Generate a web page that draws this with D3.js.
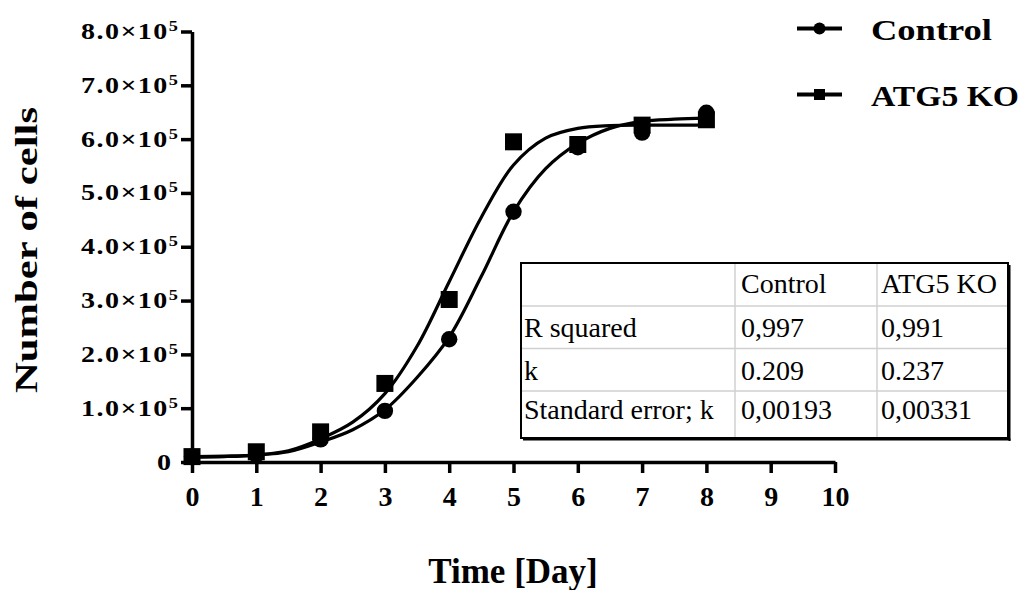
<!DOCTYPE html>
<html>
<head>
<meta charset="utf-8">
<script src="https://cdn.jsdelivr.net/npm/d3@7"></script>
<style>
  html, body { margin: 0; padding: 0; background: #fff; }
  svg { display: block; }
  text { font-family: "Liberation Serif", "Times New Roman", serif; fill: #000; }
</style>
</head>
<body>
<svg id="chart" width="1026" height="590"></svg>
<script>
// ---- data ----
const days = [0, 1, 2, 3, 4, 5, 6, 7, 8];
const controlCells = [10000, 14000, 42000, 95000, 228000, 465000, 585000, 612000, 649000];
const atg5Cells    = [10000, 19000, 56000, 146000, 302000, 595000, 590000, 626000, 636000];

const fitDays = [0, 0.5, 1, 1.5, 2, 2.5, 3, 3.5, 4, 4.5, 5, 5.5, 6, 6.5, 7, 7.5, 8];
const controlFit = [10000, 11000, 13000, 19000, 37000, 60000, 97000, 157000, 232000, 345000, 465000, 545000, 592000, 620000, 633000, 637000, 639000];
const atg5Fit    = [9000, 10000, 13000, 21000, 43000, 74000, 127000, 215000, 335000, 455000, 552000, 602000, 620000, 625000, 626000, 626000, 626000];

const xTicks = [0, 1, 2, 3, 4, 5, 6, 7, 8, 9, 10];
const yTicks = [0, 100000, 200000, 300000, 400000, 500000, 600000, 700000, 800000];
const yTickMantissa = ["0", "1.0", "2.0", "3.0", "4.0", "5.0", "6.0", "7.0", "8.0"];

const seriesNames = ["Control", "ATG5 KO"];
const tableHeader = ["", "Control", "ATG5 KO"];
const tableRows = [
  ["R squared", "0,997", "0,991"],
  ["k", "0.209", "0.237"],
  ["Standard error; k", "0,00193", "0,00331"]
];

// ---- chart ----
const svg = d3.select("#chart");
const x = d3.scaleLinear().domain([0, 10]).range([192, 835]);
const y = d3.scaleLinear().domain([0, 800000]).range([462, 31.5]);

// Axes
const xAxis = svg.append("g").attr("transform", `translate(0,${y(0)})`)
  .call(d3.axisBottom(x).tickValues(xTicks).tickSize(11).tickSizeOuter(0).tickFormat(d3.format("d")));
xAxis.select(".domain").attr("stroke", "#000").attr("stroke-width", 3.5);
xAxis.selectAll(".tick line").attr("stroke", "#000").attr("stroke-width", 3.5);
xAxis.selectAll(".tick text").remove();
xAxis.selectAll(".tick").append("text")
  .attr("y", 44).attr("text-anchor", "middle")
  .style("font-size", "28px").style("font-weight", "bold")
  .text(d => d);

const yAxis = svg.append("g").attr("transform", `translate(${x(0)},0)`)
  .call(d3.axisLeft(y).tickValues(yTicks).tickSize(11).tickSizeOuter(0).tickFormat(""));
yAxis.select(".domain").attr("stroke", "#000").attr("stroke-width", 3.5);
yAxis.selectAll(".tick line").attr("stroke", "#000").attr("stroke-width", 3.5);
yAxis.selectAll(".tick text").remove();

yTicks.forEach((v, i) => {
  const g = svg.append("g").attr("transform", `translate(${v === 0 ? 171 : 178},${y(v) + 7.5}) scale(1.22,1)`);
  const t = g.append("text").attr("text-anchor", "end")
    .style("font-size", "23px").style("font-weight", "bold").style("letter-spacing", v === 0 ? "0px" : "1.2px");
  if (v === 0) {
    t.text(yTickMantissa[i]);
  } else {
    t.append("tspan").text(yTickMantissa[i] + "\u00D710");
    t.append("tspan").attr("dy", -8).style("font-size", "15px").style("letter-spacing", "0px").text("5");
  }
});

// Axis titles
svg.append("text").attr("x", 513).attr("y", 583).attr("text-anchor", "middle")
  .style("font-size", "35px").style("font-weight", "bold").text("Time [Day]");
svg.append("text").attr("transform", "translate(37,250) rotate(-90)").attr("text-anchor", "middle")
  .attr("textLength", 286).attr("lengthAdjust", "spacingAndGlyphs")
  .style("font-size", "32px").style("font-weight", "bold").text("Number of cells");

// Fit curves
const line = d3.line().x(d => x(d[0])).y(d => y(d[1])).curve(d3.curveCatmullRom.alpha(0.5));
[controlFit, atg5Fit].forEach(arr => {
  svg.append("path").datum(fitDays.map((d, i) => [d, arr[i]]))
    .attr("d", line).attr("fill", "none").attr("stroke", "#000").attr("stroke-width", 3.2);
});

// Points
svg.append("g").selectAll("circle").data(days.map((d, i) => [d, controlCells[i]]))
  .join("circle").attr("cx", d => x(d[0])).attr("cy", d => y(d[1])).attr("r", 8.2).attr("fill", "#000");
const sq = 17;
svg.append("g").selectAll("rect").data(days.map((d, i) => [d, atg5Cells[i]]))
  .join("rect").attr("x", d => x(d[0]) - sq / 2).attr("y", d => y(d[1]) - sq / 2)
  .attr("width", sq).attr("height", sq).attr("fill", "#000");

// Legend
const legY = [28.5, 94.5];
const legLen = [121, 148];
seriesNames.forEach((name, i) => {
  const g = svg.append("g");
  g.append("line").attr("x1", 797).attr("x2", 842).attr("y1", legY[i]).attr("y2", legY[i])
    .attr("stroke", "#000").attr("stroke-width", 4);
  if (i === 0) g.append("circle").attr("cx", 819.5).attr("cy", legY[i]).attr("r", 6).attr("fill", "#000");
  else g.append("rect").attr("x", 814).attr("y", legY[i] - 5.5).attr("width", 11).attr("height", 11).attr("fill", "#000");
  g.append("text").attr("x", 871).attr("y", legY[i] + 11)
    .attr("textLength", legLen[i]).attr("lengthAdjust", "spacingAndGlyphs")
    .style("font-size", "29px").style("font-weight", "bold").text(name);
});

// Table
const colX = [521, 735, 877, 1008];
const rowY = [263, 306, 348.5, 391, 438];
const baseY = [293, 337, 380, 419];
const tg = svg.append("g");
tg.append("rect").attr("x", colX[0]).attr("y", rowY[0]).attr("width", colX[3] - colX[0]).attr("height", rowY[4] - rowY[0])
  .attr("fill", "#fff");
for (let r = 1; r < 4; r++) {
  tg.append("line").attr("x1", colX[0]).attr("x2", colX[3]).attr("y1", rowY[r]).attr("y2", rowY[r])
    .attr("stroke", "#d0d0d0").attr("stroke-width", 1.5);
}
for (let c = 1; c < 3; c++) {
  tg.append("line").attr("x1", colX[c]).attr("x2", colX[c]).attr("y1", rowY[0]).attr("y2", rowY[4])
    .attr("stroke", "#d0d0d0").attr("stroke-width", 1.5);
}
tg.append("rect").attr("x", colX[0]).attr("y", rowY[0]).attr("width", colX[3] - colX[0]).attr("height", rowY[4] - rowY[0])
  .attr("fill", "none").attr("stroke", "#000").attr("stroke-width", 2);
// drop shadow edges
tg.append("line").attr("x1", colX[3] + 1.5).attr("x2", colX[3] + 1.5).attr("y1", rowY[0] + 2).attr("y2", rowY[4] + 3)
  .attr("stroke", "#000").attr("stroke-width", 2);
tg.append("line").attr("x1", colX[0] + 2).attr("x2", colX[3] + 2.5).attr("y1", rowY[4] + 1.5).attr("y2", rowY[4] + 1.5)
  .attr("stroke", "#000").attr("stroke-width", 2);

const padX = [3, 6, 4];
const allRows = [tableHeader].concat(tableRows);
allRows.forEach((row, r) => {
  row.forEach((cell, c) => {
    if (!cell) return;
    tg.append("text").attr("x", colX[c] + padX[c]).attr("y", baseY[r])
      .style("font-size", "28px").text(cell);
  });
});
</script>
</body>
</html>
